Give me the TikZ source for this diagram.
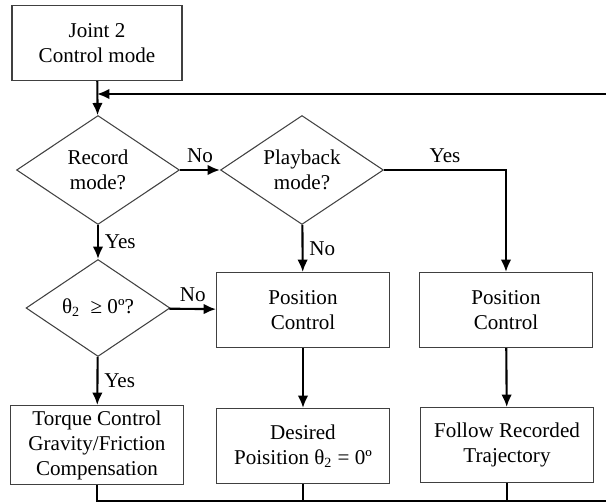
\documentclass[tikz,border=0pt]{standalone}
\usepackage{fontspec}
\setmainfont{Liberation Serif}
\newfontfamily\flowfont{Liberation Serif}
\usetikzlibrary{shapes.geometric, arrows.meta}

\begin{document}
\begin{tikzpicture}[x=0.02cm, y=-0.02cm, font=\flowfont\fontsize{12}{14.2}\selectfont,
    box/.style={draw=black!75, line width=0.6pt, minimum width=3.46cm, minimum height=1.5cm, inner sep=1pt, align=center},
    decision/.style={diamond, draw=black!75, line width=0.6pt, aspect=1.5, inner sep=0pt, align=center},
    link/.style={line width=1.2pt},
    flow/.style={link, ->, >={Latex[length=7pt, width=6pt]}}]
  \useasboundingbox (0,0) rectangle (606,504);
  \clip (0,0) rectangle (606,504);

  % Start box and the two mode checks
  \node[box, minimum width=3.4cm] (start) at (97,43) {Joint 2\\Control mode};
  \node[decision, minimum width=3.26cm, minimum height=2.18cm] (record) at (98,170) {Record\\mode?};
  \node[decision, minimum width=3.26cm, minimum height=2.18cm] (playback) at (302,170) {Playback\\mode?};
  \node[decision, minimum width=2.88cm, minimum height=1.94cm] (angle) at (98,308) {θ\textsubscript{2}\ \ ≥ 0º?};

  % Control boxes
  \node[box] (posA) at (303,310) {Position\\Control};
  \node[box] (posB) at (506,310) {Position\\Control};
  \node[box, minimum height=1.58cm] (torque) at (97,445) {Torque Control\\Gravity/Friction\\Compensation};
  \node[box] (desired) at (303,446) {Desired\\Poisition θ\textsubscript{2} = 0º};
  \node[box] (follow) at (507,445) {Follow Recorded\\Trajectory};

  % Loop back corners
  \coordinate (bot) at (640,501);
  \coordinate (top) at (640,94);

  \draw[flow] (start) -- (record);
  \draw[flow] (record) -- node[above] {No} (playback);
  \draw[flow] (record) -- node[right] {Yes} (angle);
  \draw[flow] (playback) -- node[right] {No} (posA);
  \draw[flow] (playback.east) -- node[above] {Yes} (playback.east -| posB) -- (posB);
  \draw[flow] (angle) -- node[above] {No} (posA);
  \draw[flow] (angle) -- node[right] {Yes} (torque);
  \draw[flow] (posA) -- (desired);
  \draw[flow] (posB) -- (follow);

  \draw[link] (desired.south) -- (desired.south |- bot);
  \draw[link] (follow.south) -- (follow.south |- bot);
  \draw[flow] (torque.south) -- (torque.south |- bot) -- (bot) -- (top) -- (start.south |- top);
\end{tikzpicture}
\end{document}
